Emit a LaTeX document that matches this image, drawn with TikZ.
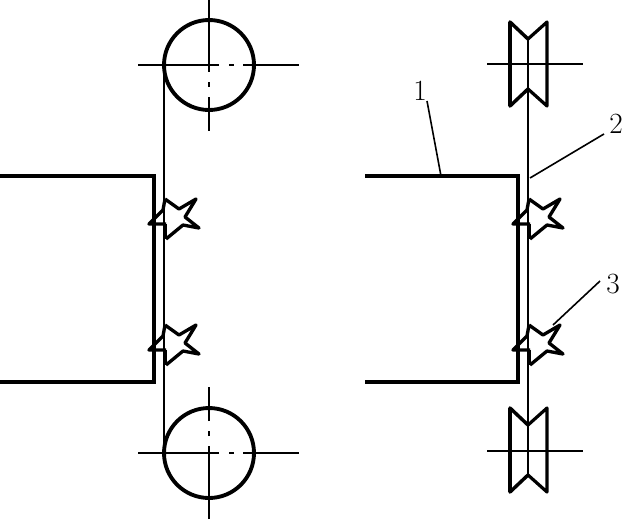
\documentclass[tikz,border=0pt]{standalone}
\usepackage{tikz}

\tikzset{
  thin line/.style={line width=1.5pt},
  belt line/.style={line width=2.1pt},
  thick line/.style={line width=2.9pt, line join=miter},
  leader line/.style={line width=1.2pt},
  label num/.style={font=\fontsize{22}{24}\selectfont, inner sep=0pt},
  lug/.pic={
    \draw [thick line, line width=2.5pt, line join=round]
    (-9,-15) -- (5,-5) -- (22,-15) -- (11,3) -- (25,14) -- (9,11) -- (-8,25)
    (-9,-15) -- (-11,-4) -- (-25,10) -- (-8,10);
    \draw [belt line] (-8,10) -- (-8,25);
  }
}

\begin{document}
\begin{tikzpicture}[x=0.75pt,y=-0.75pt]
    \useasboundingbox (0,0) rectangle (624,519);
    \coordinate (P) at (209,65);
    \coordinate (Q) at (209,453);
    \coordinate (B) at (164,65);
    \coordinate (E) at (164,453);
    % left view
    \draw [thin line] (138,65) -- (219,65) (229,65) -- (234,65) (243,65) -- (299,65);
    \draw [thin line] (209,0) -- (209,72) (209,82) -- (209,87) (209,97) -- (209,131);
    \draw [thin line] (138,453) -- (219,453) (229,453) -- (234,453) (243,453) -- (299,453);
    \draw [thin line] (209,519) -- (209,446) (209,436) -- (209,431) (209,421) -- (209,387);
    \draw [thick line] (P) circle (45);
    \draw [thick line] (Q) circle (45);
    \draw [belt line] (B) -- (E);
    \draw [thick line] (0,176) -- (154,176) -- (154,382) -- (0,382);
    \pic at (174,214) {lug};
    \pic at (174,340) {lug};
    % right view
    \coordinate (C) at (528,39);
    \coordinate (D) at (528,475);
    \draw [thin line] (487,64) -- (583,64);
    \draw [thin line] (487,451) -- (583,451);
    \draw [belt line] (C) -- (D);
    \draw [thick line, line width=2.6pt, line join=round] (528,39) -- (510,22) -- (510,106) -- (528,89);
    \draw [thick line, line width=3.6pt] (510,22) -- (510,106);
    \draw [belt line, line width=2.4pt, line join=round] (528,39) -- (547,22) -- (547,106) -- (528,89);
    \draw [thick line, line width=2.6pt, line join=round] (528,425) -- (510,408) -- (510,492) -- (528,475);
    \draw [thick line, line width=3.6pt] (510,408) -- (510,492);
    \draw [belt line, line width=2.4pt, line join=round] (528,425) -- (547,408) -- (547,492) -- (528,475);
    \draw [thick line] (365,176) -- (518,176) -- (518,382) -- (365,382);
    \pic at (538,214) {lug};
    \pic at (538,340) {lug};
    % labels
    \node [label num] (n1) at (420,91) {1};
    \node [label num] (n2) at (616,124) {2};
    \node [label num] (n3) at (613,284) {3};
    \coordinate (a1) at (441,176);
    \coordinate (a2) at (530,178);
    \coordinate (a3) at (553,325);
    \draw [leader line] (n1.south east) -- (a1);
    \draw [leader line] (n2.south west) ++(-5,0) -- (a2);
    \draw [leader line] (n3.west) ++(-6,-3) -- (a3);
  \end{tikzpicture}
\end{document}
